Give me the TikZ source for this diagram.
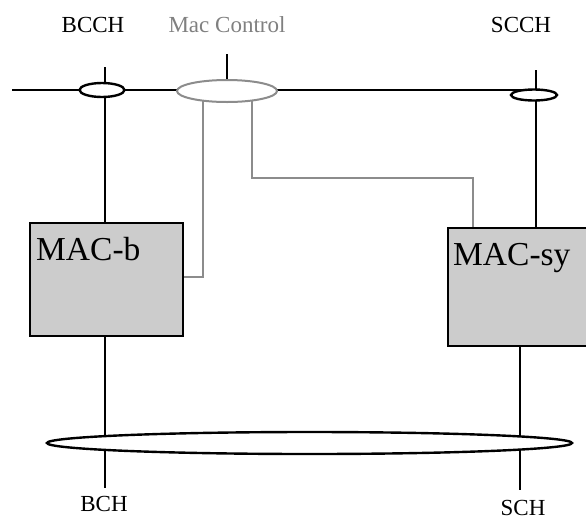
\documentclass[tikz,border=0pt]{standalone}
\usepackage{fontspec}
\setmainfont{Liberation Serif}
\usetikzlibrary{shapes.geometric,backgrounds}
\definecolor{ctrlgray}{HTML}{8C8C8C}
\definecolor{ctrltext}{HTML}{808080}
\definecolor{boxgray}{HTML}{CCCCCC}
\begin{document}
\begin{tikzpicture}[x=1pt,y=-1pt,
  chan/.style={line width=2.4pt,black},
  ctrl/.style={line width=2pt,ctrlgray},
  sap/.style={ellipse,draw,line width=2.4pt,fill=white,inner sep=0pt},
  macbox/.style={rectangle,draw,line width=2.2pt,fill=boxgray,inner sep=0pt},
  lbl/.style={inner sep=0pt,anchor=base,font=\fontsize{23}{26}\selectfont},
  boxlbl/.style={inner sep=0pt,anchor=base west,font=\fontsize{33.5}{38}\selectfont}]
\useasboundingbox (0,0) rectangle (586,515);
\clip (0,0) rectangle (586,515);

% service access points (ellipses)
\node[sap,minimum width=45pt,minimum height=14pt] (bcchsap) at (102,90) {};
\node[sap,draw=ctrlgray,line width=2pt,minimum width=100pt,minimum height=22pt] (macsap) at (227,91) {};
\node[sap,minimum width=46pt,minimum height=11pt] (scchsap) at (534,95) {};
\node[sap,minimum width=525pt,minimum height=22pt] (bus) at (309.5,443) {};

% MAC entities
\node[macbox,minimum width=153pt,minimum height=113pt] (macb) at (106.5,279.5) {};
\node[macbox,minimum width=142pt,minimum height=118pt] (macsy) at (519,287) {};
\node[boxlbl] (macblbl) at (36,260) {MAC-b};
\node[boxlbl] (macsylbl) at (453,265) {MAC-sy};

% channel labels
\node[lbl] (bcch) at (93,32) {BCCH};
\node[lbl,text=ctrltext] (macctl) at (227,32) {Mac Control};
\node[lbl] (scch) at (521,32) {SCCH};
\node[lbl] (bch) at (104,511) {BCH};
\node[lbl] (sch) at (523,515.5) {SCH};

% free line ends
\coordinate (busL) at (12,90);
\coordinate (busR) at (522,90);
\coordinate (bcchTop) at (105,67);
\coordinate (macTop) at (227,54);
\coordinate (scchTop) at (536,70);
\coordinate (bchEnd) at (105,488);
\coordinate (schEnd) at (520,490);

\begin{scope}[on background layer]
  \draw[chan] (busL) -- (busR);
  \draw[chan] (bcchTop) -- (bcchTop |- macb.north);
  \draw[chan] (macTop) -- (macsap);
  \draw[chan] (scchTop) -- (scchTop |- macsy.north);
  \draw[chan] (macb.south -| bchEnd) -- (bchEnd);
  \draw[chan] (macsy.south -| schEnd) -- (schEnd);
  \draw[ctrl] ([xshift=-24pt]macsap.center) |- ([xshift=-5pt,yshift=2.5pt]macb.east);
  \draw[ctrl] ([xshift=25pt]macsap.center) -- ++(0,87) -| ([xshift=-46pt]macsy.north);
\end{scope}
\end{tikzpicture}
\end{document}
